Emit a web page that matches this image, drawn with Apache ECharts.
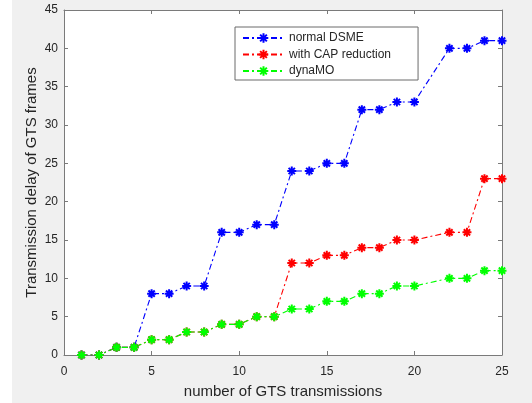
<!DOCTYPE html>
<html><head><meta charset="utf-8">
<script src="https://cdn.jsdelivr.net/npm/echarts@6/dist/echarts.min.js"></script>
<style>html,body{margin:0;padding:0;background:#fff}#c{width:532px;height:403px}</style>
</head><body><div id="c"></div>
<script>
const xValues = [1,2,3,4,5,6,7,8,9,10,11,12,13,14,15,16,17,18,19,20,22,23,24,25];
const normalDSME = [0,0,1,1,8,8,9,9,16,16,17,17,24,24,25,25,32,32,33,33,40,40,41,41];
const withCAP = [0,0,1,1,2,2,3,3,4,4,5,5,12,12,13,13,14,14,15,15,16,16,23,23];
const dynaMO = [0,0,1,1,2,2,3,3,4,4,5,5,6,6,7,7,8,8,9,9,10,10,11,11];
const seriesNames = ['normal DSME','with CAP reduction','dynaMO'];
const xTicks = [0,5,10,15,20,25];
const yTicks = [0,5,10,15,20,25,30,35,40,45];

const font = 'Liberation Sans, Arial, Helvetica, sans-serif';
const axisColor = '#7a7a7a';
const labelColor = '#262626';
const star = 'path://M0,5L10,5M5,0L5,10M1.5,1.5L8.5,8.5M8.5,1.5L1.5,8.5';
function pairs(ys){ return ys.map((y,i)=>[xValues[i], y]); }
function mk(name, data, color){
  return {name, type:'line', data:pairs(data), symbol:star, symbolSize:9,
    itemStyle:{color:color, borderColor:color, borderWidth:2},
    lineStyle:{color:color, width:1.1, type:[6,3,2,3]}, animation:false};
}
function axis(extra){
  return Object.assign({type:'value', min:0, interval:5, nameMoveOverlap:false,
    axisLine:{show:true, onZero:false, lineStyle:{color:axisColor,width:1}},
    axisTick:{show:true, inside:true, length:4, lineStyle:{color:axisColor, width:1}},
    splitLine:{show:false}}, extra);
}
const chart = echarts.init(document.getElementById('c'));
chart.setOption({
  backgroundColor:'#f0f0f0',
  textStyle:{fontFamily:font},
  graphic:[{type:'rect', left:0, top:0, shape:{width:12, height:403}, style:{fill:'#ffffff'}, silent:true}],
  grid:{left:64, right:30, top:10, bottom:48, show:true, backgroundColor:'#ffffff', borderWidth:0,
    outerBoundsMode:'none', containLabel:false},
  legend:{orient:'vertical', left:235, top:27, itemWidth:41, itemHeight:12, itemGap:4.5,
    padding:[5,27,3,7], backgroundColor:'#ffffff', borderColor:'#6a6a6a', borderWidth:1,
    textStyle:{fontFamily:font, fontSize:12, color:labelColor}, data:seriesNames},
  xAxis:[
    axis({max:xTicks[xTicks.length-1], position:'bottom',
      name:'number of GTS transmissions', nameLocation:'middle', nameGap:29,
      nameTextStyle:{fontFamily:font, fontSize:15, color:labelColor},
      axisLabel:{fontFamily:font, fontSize:12, color:labelColor, margin:11}}),
    axis({max:xTicks[xTicks.length-1], position:'top', axisLabel:{show:false}})
  ],
  yAxis:[
    axis({max:yTicks[yTicks.length-1], position:'left',
      name:'Transmission delay of GTS frames', nameLocation:'middle', nameGap:25,
      nameTextStyle:{fontFamily:font, fontSize:15, color:labelColor},
      axisLabel:{fontFamily:font, fontSize:12, color:labelColor, margin:6}}),
    axis({max:yTicks[yTicks.length-1], position:'right', axisLabel:{show:false}})
  ],
  series:[
    mk(seriesNames[0], normalDSME, '#0000ff'),
    mk(seriesNames[1], withCAP, '#ff0000'),
    mk(seriesNames[2], dynaMO, '#00ff00')
  ]
});
</script></body></html>
